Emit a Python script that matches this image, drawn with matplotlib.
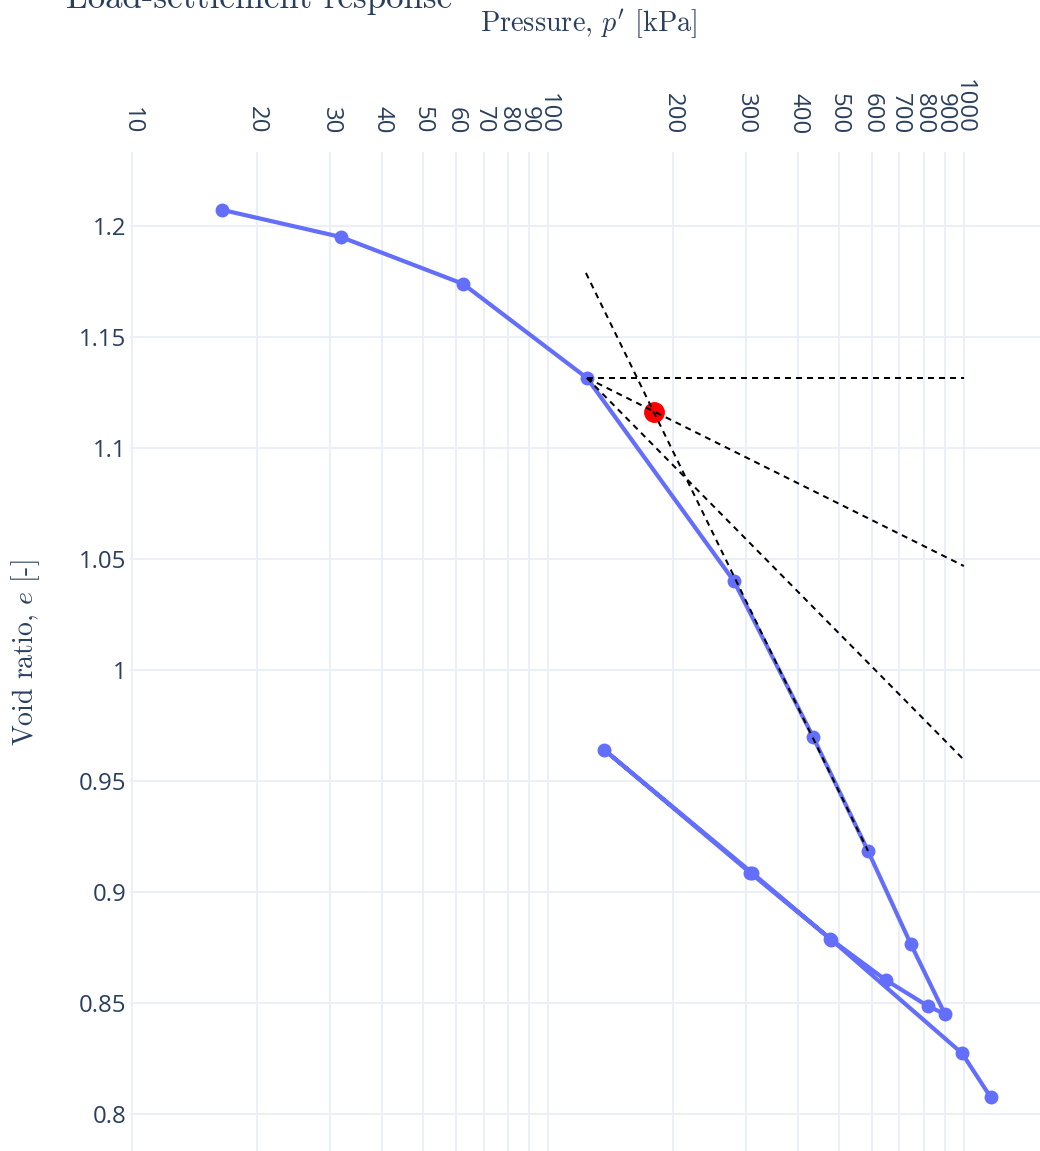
import matplotlib
matplotlib.use('Agg')
import matplotlib.pyplot as plt
from matplotlib.ticker import FixedLocator, FixedFormatter, NullLocator

plt.rcParams['mathtext.fontset'] = 'cm'
plt.rcParams['axes.unicode_minus'] = False

# Oedometer test data: loading, unloading, reloading
pressure = [16.5, 31.8, 62.5, 124.1, 280, 434, 588, 745, 900,
            819, 648, 476, 306, 136.6,
            310, 480, 990, 1160]
void_ratio = [1.2072, 1.195, 1.1739, 1.1315, 1.040, 0.9698, 0.9185, 0.8766, 0.845,
              0.8486, 0.8604, 0.879, 0.9087, 0.964,
              0.9085, 0.8785, 0.8273, 0.8075]

# Casagrande construction
p_max_curv = 124.1
e_max_curv = 1.1315
p_line_end = 1000
e_horizontal = [e_max_curv, e_max_curv]
e_bisector = [e_max_curv, 1.0468]
e_tangent = [e_max_curv, 0.9595]
p_virgin = [123.4, 588]
e_virgin = [1.1788, 0.9185]
p_precons = 179.8
e_precons = 1.1164

x_ticks = [10, 20, 30, 40, 50, 60, 70, 80, 90, 100,
           200, 300, 400, 500, 600, 700, 800, 900, 1000]
y_ticks = [0.8, 0.85, 0.9, 0.95, 1.0, 1.05, 1.1, 1.15, 1.2]
y_tick_labels = ['0.8', '0.85', '0.9', '0.95', '1', '1.05', '1.1', '1.15', '1.2']

text_color = '#2a3f5f'
grid_color = '#EBF0F8'
blue = '#636EFA'

fig = plt.figure(figsize=(10.4, 11.51), dpi=100)
ax = fig.add_axes([130 / 1040, 0, 910 / 1040, 1 - 152 / 1151])

ax.plot(pressure, void_ratio, color=blue, lw=3, marker='o', ms=9, zorder=3)
ax.plot([p_precons], [e_precons], 'o', color='red', ms=14, zorder=4)

dash = (0, (3, 2.5))
for ys in (e_horizontal, e_bisector, e_tangent):
    ax.plot([p_max_curv, p_line_end], ys, color='black', lw=1.44, ls=dash, zorder=5)
ax.plot(p_virgin, e_virgin, color='black', lw=1.44, ls=dash, zorder=5)

ax.set_xscale('log')
ax.set_xlim(9.89, 1524)
ax.set_ylim(0.7833, 1.2333)

ax.xaxis.tick_top()
ax.xaxis.set_major_locator(FixedLocator(x_ticks))
ax.xaxis.set_major_formatter(FixedFormatter([str(v) for v in x_ticks]))
ax.xaxis.set_minor_locator(NullLocator())
ax.yaxis.set_major_locator(FixedLocator(y_ticks))
ax.yaxis.set_major_formatter(FixedFormatter(y_tick_labels))

ax.tick_params(axis='x', length=0, pad=13, labelsize=17.3, labelcolor=text_color,
               labelrotation=-90)
ax.tick_params(axis='y', length=0, pad=2.5, labelsize=17.3, labelcolor=text_color)
for lab in ax.get_xticklabels() + ax.get_yticklabels():
    lab.set_fontfamily('Open Sans')

ax.grid(True, color=grid_color, lw=1.4, zorder=0)
ax.set_axisbelow(True)
for s in ax.spines.values():
    s.set_visible(False)

fig.text(589 / 1040, 1 - 24 / 1151, r"Pressure, $p'$ [kPa]", ha='center', va='center',
         fontsize=20.4, color=text_color, family='cmr10')
fig.text(26 / 1040, 1 - 653 / 1151, r"Void ratio, $e$ [-]", ha='center', va='center',
         rotation=90, fontsize=20, color=text_color, family='cmr10')
fig.text(66 / 1040, 1 - 8 / 1151, 'Load-settlement response', ha='left', va='baseline',
         fontsize=25.1, color=text_color, family='cmr10')

fig.savefig('out.png', dpi=100)
